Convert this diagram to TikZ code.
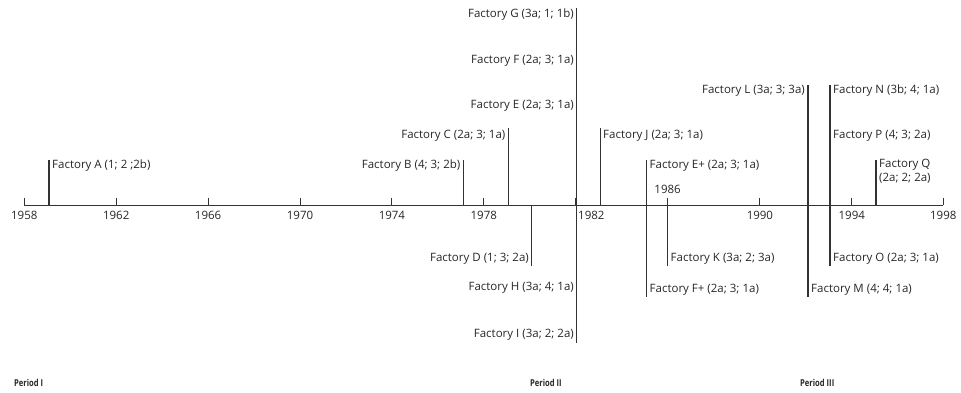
\documentclass[tikz,border=0pt]{standalone}
\usepackage{fontspec}
\setmainfont{Open Sans}
\newfontfamily\perfont{Open Sans}[FakeStretch=0.8]
\begin{document}
\begin{tikzpicture}[x=1pt,y=-1pt,
  ln/.style={line width=1.1pt,draw=black!80},
  tk/.style={line width=1pt,draw=black!80},
  lblL/.style={anchor=east,inner sep=0pt,font=\fontsize{11.5}{14}\selectfont,text=black!85},
  lblR/.style={anchor=west,inner sep=0pt,font=\fontsize{11.5}{14}\selectfont,text=black!85},
  yr/.style={inner sep=0pt,font=\fontsize{11.5}{14}\selectfont,text=black!85},
  per/.style={anchor=west,inner sep=0pt,font=\perfont\fontsize{9.5}{11}\bfseries\selectfont,text=black!85}]
\useasboundingbox (0,0) rectangle (961,392);
% axis
\coordinate (ax0) at (24.3,205);
\coordinate (ax1) at (943.3,205);
\draw[tk] (ax0) -- (ax1);
\foreach \y [count=\i from 0] in {1958,1962,1966,1970,1974,1978,1982,1986,1990,1994,1998}{
  \coordinate (t\i) at ({24.3+\i*91.9},205);
  \coordinate (tt\i) at ({24.3+\i*91.9},198);
  \draw[tk] (t\i) -- (tt\i);
}
\foreach \y [count=\i from 0] in {1958,1962,1966,1970,1974,1978}{
  \node[yr] (y\y) at ({24.3+\i*91.9},215) {\y};
}
\node[yr,anchor=west] (y1982) at (578,215) {1982};
\node[yr] (y1986) at (667.6,189) {1986};
\node[yr] (y1990) at (759.9,215) {1990};
\node[yr] (y1994) at (851.8,215) {1994};
\node[yr] (y1998) at (943.3,215) {1998};
% marker lines
\coordinate (A0) at (49,205);   \coordinate (A1) at (49,160);
\coordinate (B0) at (463.3,205);\coordinate (B1) at (463.3,160);
\coordinate (C0) at (508.3,205);\coordinate (C1) at (508.3,128);
\coordinate (D0) at (531.7,205);\coordinate (D1) at (531.7,266);
\coordinate (G0) at (576.7,8);  \coordinate (G1) at (576.7,343);
\coordinate (J0) at (600.3,205);\coordinate (J1) at (600.3,128);
\coordinate (E0) at (646.7,160);\coordinate (E1) at (646.7,297);
\coordinate (K0) at (667.6,205);\coordinate (K1) at (667.6,266);
\coordinate (L0) at (808,85);   \coordinate (L1) at (808,297);
\coordinate (N0) at (830,85);   \coordinate (N1) at (830,266);
\coordinate (Q0) at (876,205);  \coordinate (Q1) at (876,160);
\foreach \p in {A,B,C,D,G,J,E,K,L,N,Q}{\draw[ln] (\p0) -- (\p1);}
% labels
\node[lblR] (fA) at (52,166) {Factory A (1; 2 ;2b)};
\node[lblL] (fB) at (460.5,166) {Factory B (4; 3; 2b)};
\node[lblL] (fC) at (505.5,136) {Factory C (2a; 3; 1a)};
\node[lblL] (fD) at (529,259) {Factory D (1; 3; 2a)};
\node[lblL] (fG) at (574,15) {Factory G (3a; 1; 1b)};
\node[lblL] (fF) at (574,61) {Factory F (2a; 3; 1a)};
\node[lblL] (fE) at (574,106) {Factory E (2a; 3; 1a)};
\node[lblL] (fH) at (574,288) {Factory H (3a; 4; 1a)};
\node[lblL] (fI) at (574,335) {Factory I (3a; 2; 2a)};
\node[lblR] (fJ) at (603,136) {Factory J (2a; 3; 1a)};
\node[lblR] (fEp) at (649.5,166) {Factory E+ (2a; 3; 1a)};
\node[lblR] (fFp) at (649.5,290) {Factory F+ (2a; 3; 1a)};
\node[lblR] (fK) at (670.5,259) {Factory K (3a; 2; 3a)};
\node[lblL] (fL) at (805,91) {Factory L (3a; 3; 3a)};
\node[lblR] (fM) at (811,290) {Factory M (4; 4; 1a)};
\node[lblR] (fN) at (833,91) {Factory N (3b; 4; 1a)};
\node[lblR] (fP) at (833,136) {Factory P (4; 3; 2a)};
\node[lblR] (fO) at (833,259) {Factory O (2a; 3; 1a)};
\node[lblR,align=left,anchor=north west] (fQ) at (879,159) {Factory Q\\(2a; 2; 2a)};
% periods
\node[per] (p1) at (14,383) {Period I};
\node[per] (p2) at (530,383) {Period II};
\node[per] (p3) at (800,383) {Period III};
\end{tikzpicture}
\end{document}
